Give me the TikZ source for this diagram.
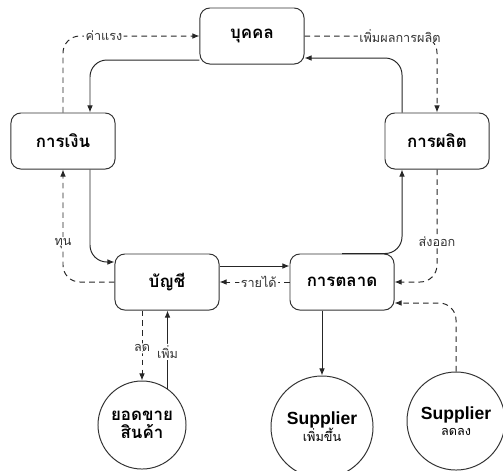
\documentclass[tikz,border=0pt]{standalone}
\usepackage{fontspec}
\setmainfont{Liberation Sans}
\newfontfamily\thaifont[Script=Thai]{Loma}
\usetikzlibrary{arrows.meta, positioning, calc}

\begin{document}
\begin{tikzpicture}[x=0.025cm, y=-0.025cm,
    box/.style={rectangle, rounded corners=7pt, minimum width=2.6cm, minimum height=1.4cm, text centered, draw=black!80, line width=0.7pt, font=\thaifont\bfseries\large},
    round/.style={circle, inner sep=0pt, text centered, draw=black!80, line width=0.7pt, align=center},
    flow/.style={-{Latex[length=5pt, width=4pt]}, line width=0.7pt, black!85, rounded corners=12pt},
    back/.style={flow, dashed, dash pattern=on 4pt off 3pt},
    lbl/.style={fill=white, inner sep=1pt, font=\thaifont\small, text=black!80}
]

    \useasboundingbox (0,0) rectangle (503,470);

    % Departments
    \node[box] (person) at (252,36) {บุคคล};
    \node[box] (finance) at (63,141) {การเงิน};
    \node[box] (production) at (437,141) {การผลิต};
    \node[box] (account) at (167,282) {บัญชี};
    \node[box] (market) at (342,282) {การตลาด};

    % Outcomes
    \node[round, minimum size=2.2cm, font=\thaifont\bfseries\large] (sales) at (142,425) {ยอดขาย\\[-1pt]สินค้า};
    \node[round, minimum size=2.55cm] (supup) at (322,427) {\bfseries\fontsize{12.5}{14}\selectfont Supplier\\[-1pt]{\thaifont\small เพิ่มขึ้น}};
    \node[round, minimum size=2.45cm] (supdown) at (456,421) {\bfseries\fontsize{12.5}{14}\selectfont Supplier\\[-1pt]{\thaifont\small ลดลง}};

    % Outer loop
    \draw[flow] ($(person.west)+(0,24)$) -| ($(finance.north)+(27,0)$);
    \draw[back] (finance.north) |- node[lbl, pos=0.65] {ค่าแรง} (person.west);
    \draw[back] (person.east) -| node[lbl, pos=0.36] {เพิ่มผลการผลิต} (production.north);
    \draw[flow] ($(production.north)+(-35,0)$) |- ($(person.east)+(0,22)$);
    \draw[flow] (market.north) -| ($(production.south)+(-35,0)$);
    \draw[back] (production.south) |- node[lbl, pos=0.32] {ส่งออก} (market.east);
    \draw[back] (supdown.north) |- ($(market.east)+(0,21)$);

    % Account and market
    \draw[flow] ($(account.east)+(0,-16)$) -- ($(market.west)+(0,-16)$);
    \draw[back] (market.west) -- node[lbl, pos=0.44] {รายได้} (account.east);
    \draw[flow] ($(finance.south)+(27,0)$) |- ($(account.west)+(0,-20)$);
    \draw[back] (account.west) -| node[lbl, pos=0.67] {ทุน} (finance.south);

    % Bottom
    \draw[back] (account.south -| sales.north) -- node[lbl, pos=0.54] {ลด} (sales.north);
    \draw[flow] (sales.55) -- node[lbl, pos=0.47] {เพิ่ม} (sales.55 |- account.south);
    \draw[flow] (market.south -| supup.north) -- (supup.north);

\end{tikzpicture}
\end{document}
